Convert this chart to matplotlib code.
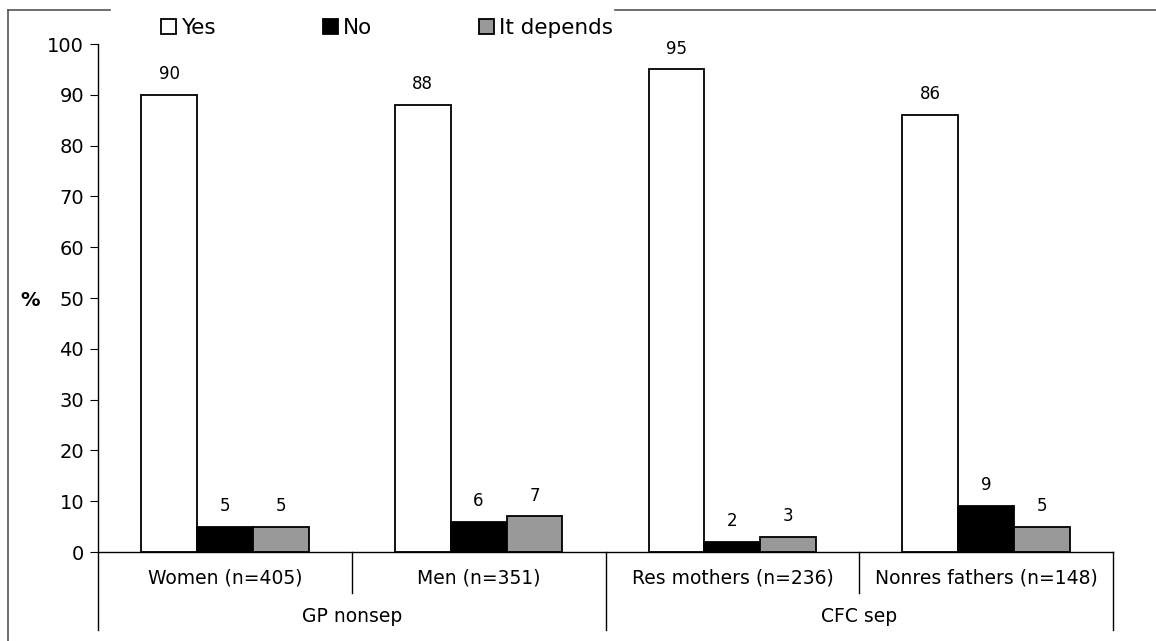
import numpy as np
import matplotlib.pyplot as plt
from matplotlib.lines import Line2D
import matplotlib.transforms as mtransforms

# data
categories = ['Women (n=405)', 'Men (n=351)', 'Res mothers (n=236)', 'Nonres fathers (n=148)']
groups = ['GP nonsep', 'CFC sep']
series = ['Yes', 'No', 'It depends']
yes = [90, 88, 95, 86]
no = [5, 6, 2, 9]
depends = [5, 7, 3, 5]
yticks = list(range(0, 101, 10))

colors = ['white', 'black', '#999999']
W, H = 1156, 641

fig = plt.figure(figsize=(W / 100, H / 100), dpi=100)
ax = fig.add_axes([98 / W, 1 - 552 / H, (1113 - 98) / W, (552 - 44) / H])

x = np.arange(len(categories))
bw = 0.22
handles = []
for k, (vals, c) in enumerate(zip([yes, no, depends], colors)):
    bars = ax.bar(x + (k - 1) * bw, vals, bw, color=c, edgecolor='black',
                  linewidth=1.3, label=series[k])
    handles.append(bars)
    for xi, v in zip(x + (k - 1) * bw, vals):
        ax.annotate(str(v), (xi, v), xytext=(0, 8.5), textcoords='offset points',
                    ha='center', va='bottom', fontsize=12)

ax.set_xlim(-0.5, len(categories) - 0.5)
ax.set_ylim(0, 100)
ax.set_yticks(yticks)
ax.tick_params(axis='y', direction='out', length=6, labelsize=14, pad=4)
ax.set_xticks([])
for s in ['top', 'right']:
    ax.spines[s].set_visible(False)
for s in ['left', 'bottom']:
    ax.spines[s].set_linewidth(1.0)

# category axis with two levels
trans = mtransforms.blended_transform_factory(ax.transData, ax.transAxes)
short = -41 / 508
long_ = -78 / 508
for b in np.arange(-0.5, len(categories)):
    lo = long_ if int(b + 0.5) % 2 == 0 else short
    ax.plot([b, b], [0, lo], transform=trans, color='black', lw=1.0, clip_on=False)
for xi, lab in zip(x, categories):
    ax.text(xi, -26 / 508, lab, transform=trans, ha='center', va='center', fontsize=13.5)
for gi, g in enumerate(groups):
    ax.text(2 * gi + 0.5, -65 / 508, g, transform=trans, ha='center', va='center', fontsize=13.5)

fig.text(30 / W, 1 - 300 / H, '%', ha='center', va='center', fontsize=14, fontweight='bold')

# outer frame (partly hidden by the legend)
fc = '#555555'
fig.add_artist(Line2D([8 / W, 8 / W], [0, 1 - 10 / H], color=fc, lw=1.2))
fig.add_artist(Line2D([8 / W, 110 / W], [1 - 10 / H, 1 - 10 / H], color=fc, lw=1.2))
fig.add_artist(Line2D([615 / W, 1], [1 - 10 / H, 1 - 10 / H], color=fc, lw=1.2))

fig.legend(handles=handles, loc='center', bbox_to_anchor=(387 / W, 1 - 28 / H),
           ncol=3, frameon=False, fontsize=15.5, handlelength=0.7, handleheight=0.7,
           handletextpad=0.2, columnspacing=5.0)

fig.savefig('out.png', dpi=100)
